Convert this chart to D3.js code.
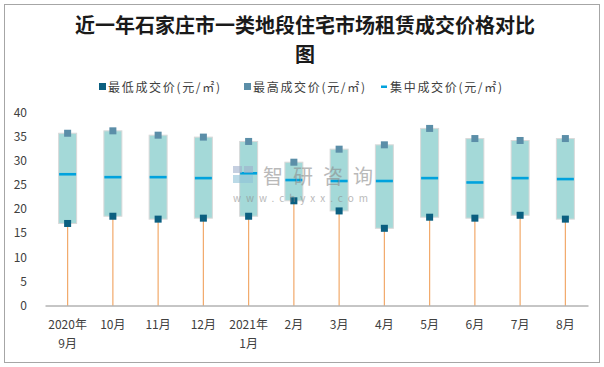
<!DOCTYPE html>
<html><head><meta charset="utf-8">
<script src="https://cdn.jsdelivr.net/npm/d3@7"></script>
<style>html,body{margin:0;padding:0;background:#fff;}svg{display:block;}</style>
</head><body>
<svg id="c" width="604" height="367"></svg>
<script>
const categories = ["2020年\n9月","10月","11月","12月","2021年\n1月","2月","3月","4月","5月","6月","7月","8月"];
const lowValues  = [17.0,18.5,17.9,18.1,18.5,21.7,19.6,16.0,18.3,18.1,18.7,17.9];
const highValues = [35.7,36.2,35.3,34.9,34.0,29.7,32.4,33.3,36.7,34.6,34.2,34.6];
const midValues  = [27.2,26.6,26.6,26.4,27.4,26.0,25.8,25.8,26.4,25.5,26.4,26.2];
const yTicks = [0,5,10,15,20,25,30,35,40];
const seriesNames = ["最低成交价(元/㎡)","最高成交价(元/㎡)","集中成交价(元/㎡)"];

const svg = d3.select("#c");
const font = "'Noto Sans CJK SC','Microsoft YaHei',sans-serif";
svg.append("rect").attr("x",4.5).attr("y",4.5).attr("width",595).attr("height",358)
  .attr("fill","#fff").attr("stroke","#a6a6a6");

// title
const title = svg.append("text").attr("text-anchor","middle").attr("font-family",font)
  .attr("font-weight","bold").attr("font-size",20).attr("fill","#1a1a1a");
title.append("tspan").attr("x",305).attr("y",33).text("近一年石家庄市一类地段住宅市场租赁成交价格对比");
title.append("tspan").attr("x",305).attr("y",62).text("图");

// legend
const colors = {low:"#0b5f80", high:"#5b8ea8", mid:"#00a2dd", box:"#a4d9d8", boxStroke:"#d9d9d9", whisker:"#f2a96a"};
const lg = svg.append("g").attr("font-family",font).attr("font-size",12).attr("fill","#404040");
const legendX = [99,244,381];
lg.append("rect").attr("x",legendX[0]).attr("y",83).attr("width",7).attr("height",7).attr("fill",colors.low);
lg.append("rect").attr("x",legendX[1]).attr("y",83).attr("width",7).attr("height",7).attr("fill",colors.high);
lg.append("rect").attr("x",legendX[2]).attr("y",85.5).attr("width",6).attr("height",2.5).attr("fill",colors.mid);
seriesNames.forEach((n,i)=>{
  lg.append("text").attr("x",legendX[i]+9).attr("y",91.5)
    .attr("textLength",112).attr("lengthAdjust","spacing").text(n);
});

const x = d3.scaleBand().domain(categories).range([45,588]);
const y = d3.scaleLinear().domain([0,40]).range([305.5,112.5]);

// y axis labels
const ya = svg.append("g").attr("transform","translate(27,0)")
  .call(d3.axisLeft(y).tickValues(yTicks).tickSize(0).tickPadding(0));
ya.select(".domain").remove();
ya.selectAll("text").attr("font-family",font).attr("font-size",12).attr("fill","#404040");

const data = categories.map((c,i)=>({c,low:lowValues[i],high:highValues[i],mid:midValues[i]}));
const cx = d=>x(d.c)+x.bandwidth()/2;

// whiskers
svg.append("g").selectAll("line").data(data).join("line")
  .attr("x1",cx).attr("x2",cx).attr("y1",y(0)).attr("y2",d=>y(d.low))
  .attr("stroke",colors.whisker).attr("stroke-width",1.2);

// boxes
const bw = 18;
svg.append("g").selectAll("rect").data(data).join("rect")
  .attr("x",d=>cx(d)-bw/2).attr("width",bw)
  .attr("y",d=>y(d.high)).attr("height",d=>y(d.low)-y(d.high))
  .attr("fill",colors.box).attr("stroke",colors.boxStroke).attr("stroke-width",1);

// median lines
svg.append("g").selectAll("rect").data(data).join("rect")
  .attr("x",d=>cx(d)-bw/2+0.5).attr("width",bw-1)
  .attr("y",d=>y(d.mid)-1.3).attr("height",2.6).attr("fill",colors.mid);

// markers
const ms = 7;
svg.append("g").selectAll("rect").data(data).join("rect")
  .attr("x",d=>cx(d)-ms/2).attr("y",d=>y(d.high)-ms/2).attr("width",ms).attr("height",ms).attr("fill",colors.high);
svg.append("g").selectAll("rect").data(data).join("rect")
  .attr("x",d=>cx(d)-ms/2).attr("y",d=>y(d.low)-ms/2).attr("width",ms).attr("height",ms).attr("fill",colors.low);

// x axis
const xa = svg.append("g").attr("transform",`translate(0,${y(0)})`)
  .call(d3.axisBottom(x).tickSize(0).tickPadding(0).tickFormat(()=>""));
xa.select(".domain").attr("stroke","#8c8c8c").attr("stroke-width",1);
xa.selectAll(".tick text").remove();
const xl = svg.append("g").attr("font-family",font).attr("font-size",12).attr("fill","#404040").attr("text-anchor","middle");
data.forEach(d=>{
  const lines = d.c.split("\n");
  const t = xl.append("text");
  lines.forEach((ln,j)=>t.append("tspan").attr("x",cx(d)).attr("y",328.5+j*19).text(ln));
});

// watermark
const wm = svg.append("g").attr("font-family",font).attr("fill","#8c8c8c").attr("opacity",0.6);
wm.append("rect").attr("x",233).attr("y",166).attr("width",9).attr("height",7).attr("fill","#9fb0cc");
wm.append("rect").attr("x",244).attr("y",166).attr("width",9).attr("height",7).attr("fill","#9fb0cc");
wm.append("rect").attr("x",233).attr("y",175).attr("width",20).attr("height",8).attr("fill","#8fc3d8");
wm.append("text").attr("x",263).attr("y",184).attr("font-size",20).attr("letter-spacing",10).text("智研咨询");
wm.append("text").attr("x",233).attr("y",202).attr("font-size",10)
  .attr("textLength",135).attr("lengthAdjust","spacing").text("www.chyxx.com");
</script>
</body></html>
